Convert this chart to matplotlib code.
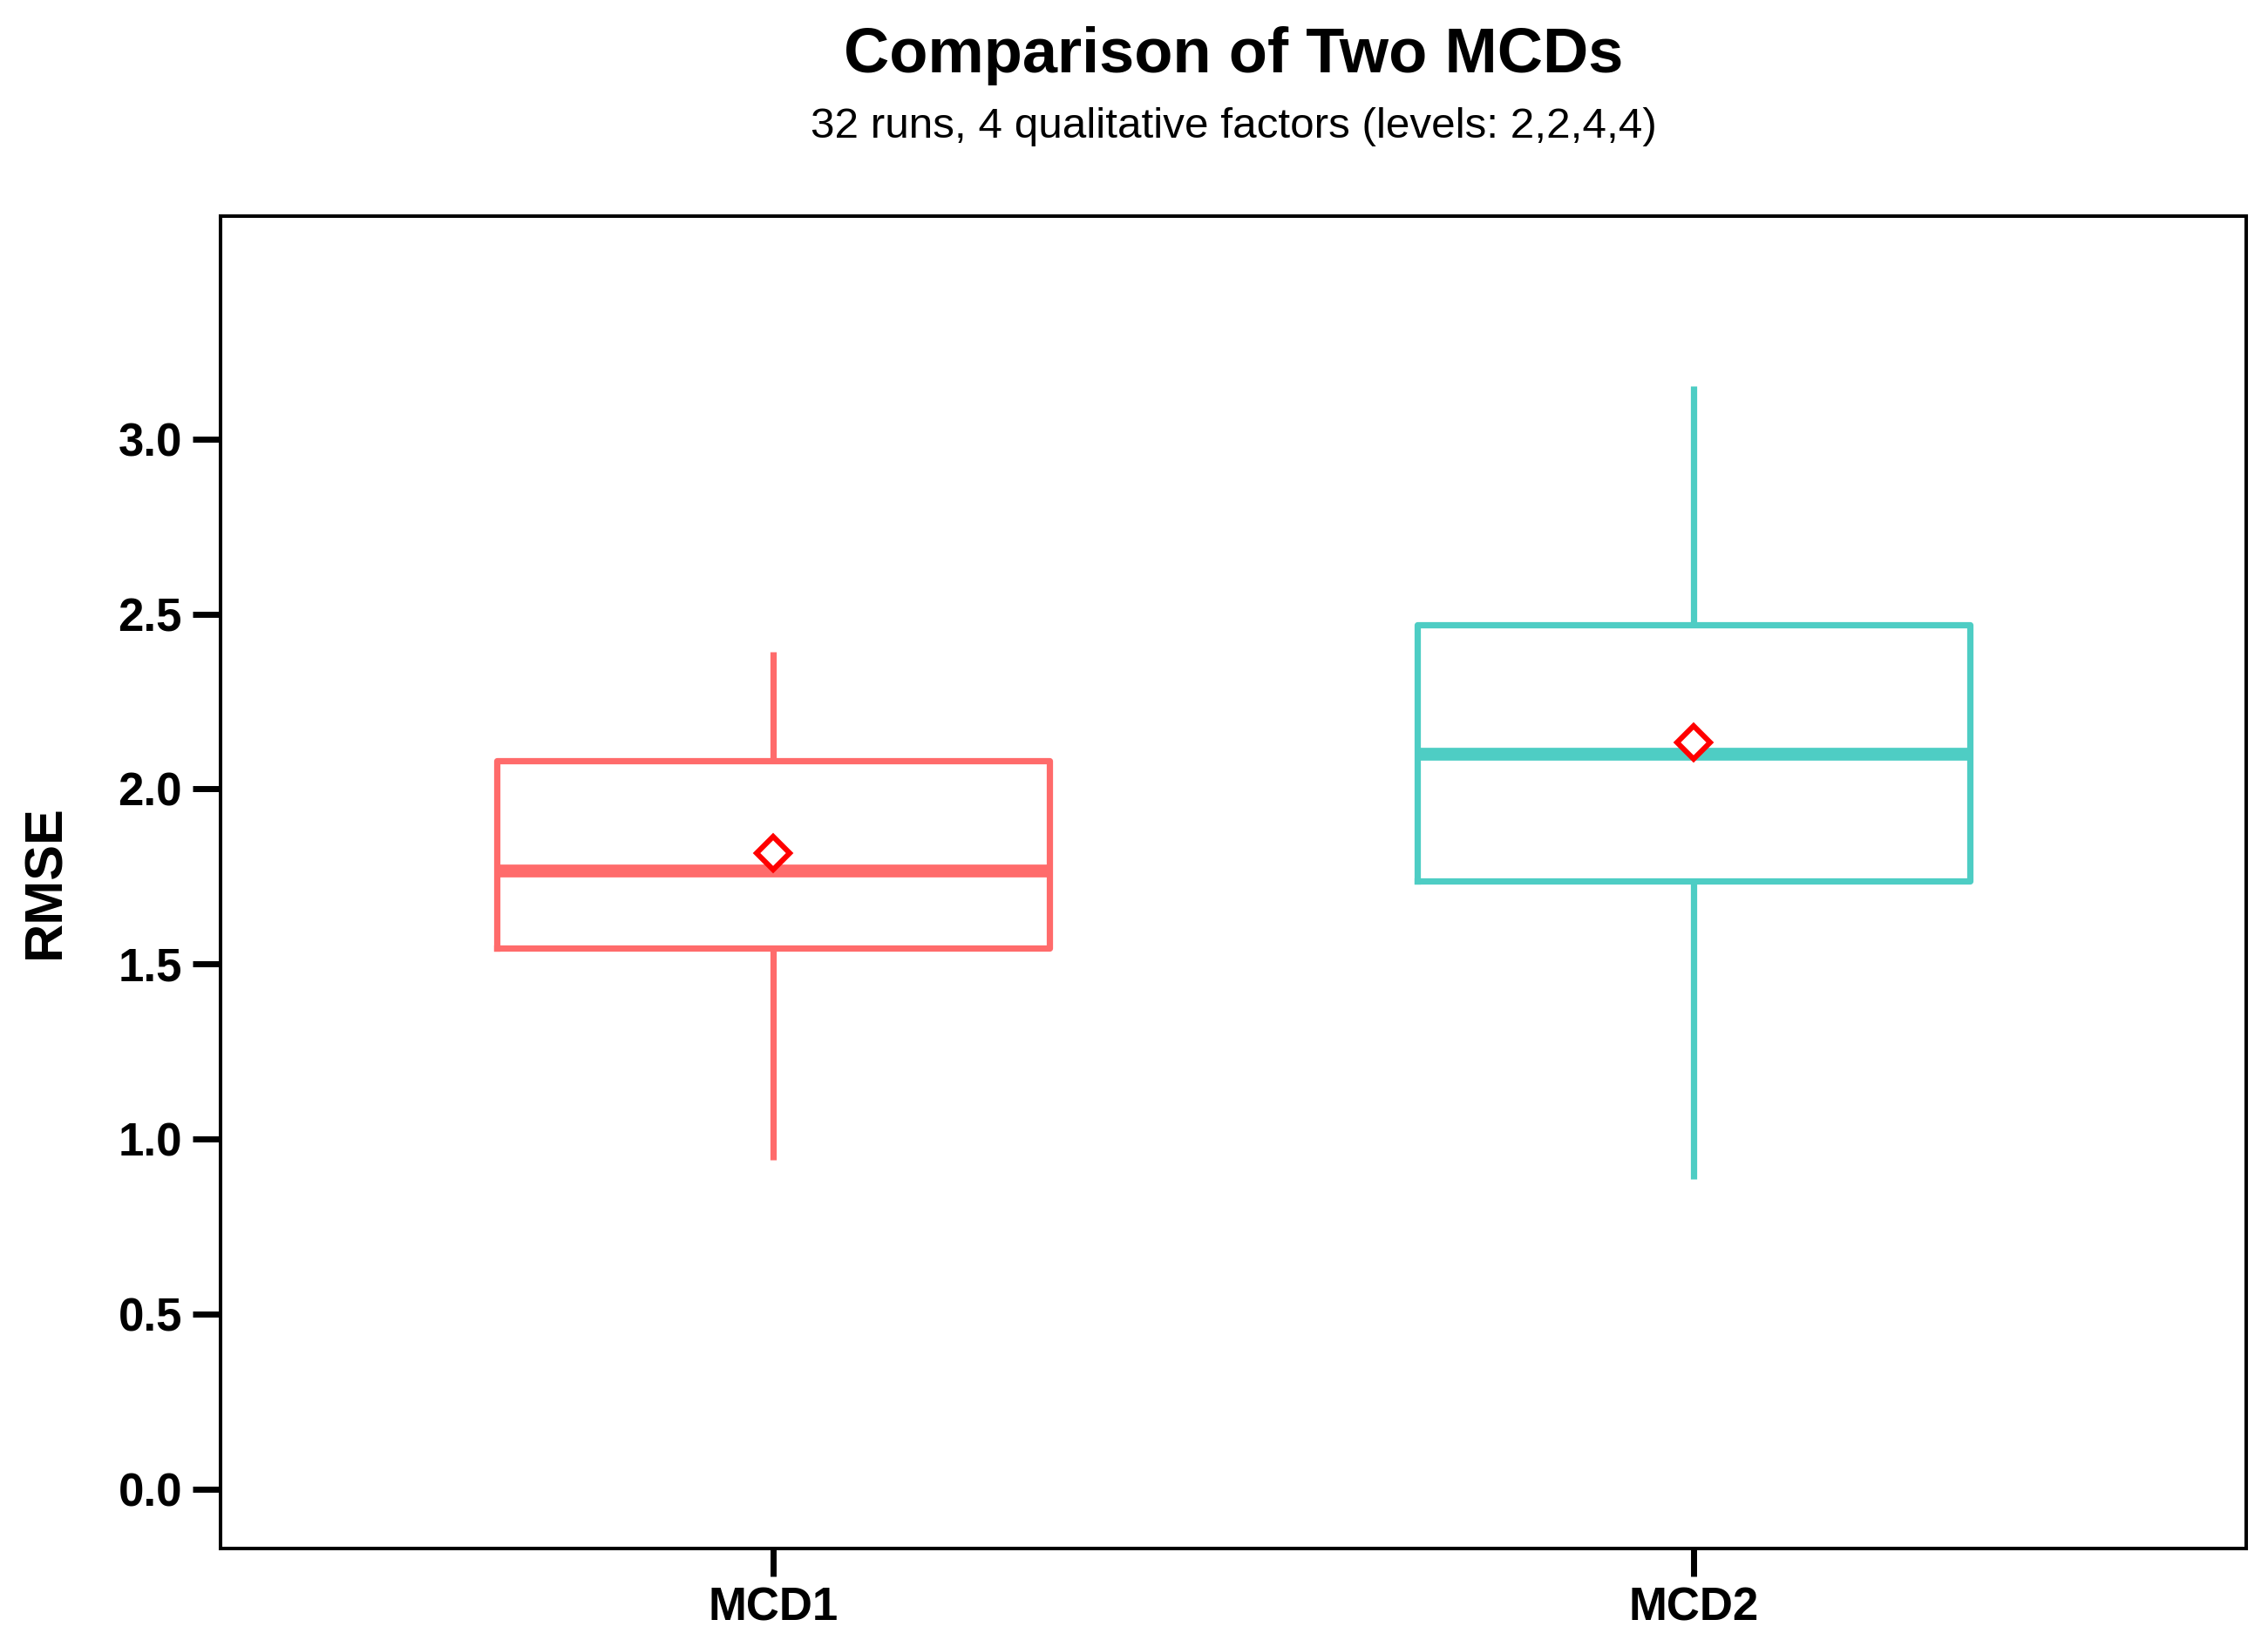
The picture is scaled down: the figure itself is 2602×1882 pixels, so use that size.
import matplotlib
matplotlib.use("Agg")
import matplotlib.pyplot as plt

plt.rcParams['font.family'] = ['Liberation Sans', 'DejaVu Sans']

# values
designs = ["MCD1", "MCD2"]
whisker_low = [0.94, 0.886]
q1 = [1.546, 1.738]
medians = [1.768, 2.100]
q3 = [2.080, 2.470]
whisker_high = [2.392, 3.151]
means = [1.817, 2.133]
colors = ["#FF6B6B", "#4ECDC4"]

yticks = [0.0, 0.5, 1.0, 1.5, 2.0, 2.5, 3.0]

stats = []
for i, name in enumerate(designs):
    stats.append({
        "label": name,
        "whislo": whisker_low[i],
        "q1": q1[i],
        "med": medians[i],
        "q3": q3[i],
        "whishi": whisker_high[i],
        "mean": means[i],
        "fliers": [],
    })

fig = plt.figure(figsize=(13.01, 9.41), dpi=200)
ax = fig.add_axes([0.0972, 0.0558, 0.8932, 0.8124])

positions = [1, 2]
bp = ax.bxp(stats, positions=positions, widths=0.6, showcaps=False,
            showmeans=False, patch_artist=False, manage_ticks=False)

for i, c in enumerate(colors):
    bp["boxes"][i].set(color=c, linewidth=2.6)
    bp["medians"][i].set(color=c, linewidth=5.3, solid_capstyle="butt")
    for w in bp["whiskers"][2 * i:2 * i + 2]:
        w.set(color=c, linewidth=2.6, solid_capstyle="butt")

ax.plot(positions, means, linestyle="none", marker="D", markersize=9.5,
        markerfacecolor="white", markeredgecolor="red", markeredgewidth=2.2,
        zorder=5)

ax.set_xlim(0.4, 2.6)
ax.set_ylim(-0.169, 3.636)
ax.set_xticks(positions)
ax.set_xticklabels(designs)
ax.set_yticks(yticks)
ax.set_yticklabels([f"{v:.1f}" for v in yticks])

for lab in ax.get_xticklabels() + ax.get_yticklabels():
    lab.set_fontweight("bold")
    lab.set_fontsize(19)

ax.tick_params(axis="both", length=11.5, width=2.5, pad=4.3, color="black")
for sp in ax.spines.values():
    sp.set_linewidth(1.45)
    sp.set_color("black")

fig.text(53 / 2602, 1 - 1012 / 1882, "RMSE", rotation=90, ha="center",
         va="center", fontsize=22, fontweight="bold")

xc = 0.0972 + 0.8932 / 2
fig.text(xc, 1 - 83 / 1882, "Comparison of Two MCDs", ha="center",
         va="baseline", fontsize=26, fontweight="bold")
fig.text(xc, 1 - 158 / 1882, "32 runs, 4 qualitative factors (levels: 2,2,4,4)",
         ha="center", va="baseline", fontsize=17.8)

fig.savefig("out.png", dpi=200, facecolor="white")
